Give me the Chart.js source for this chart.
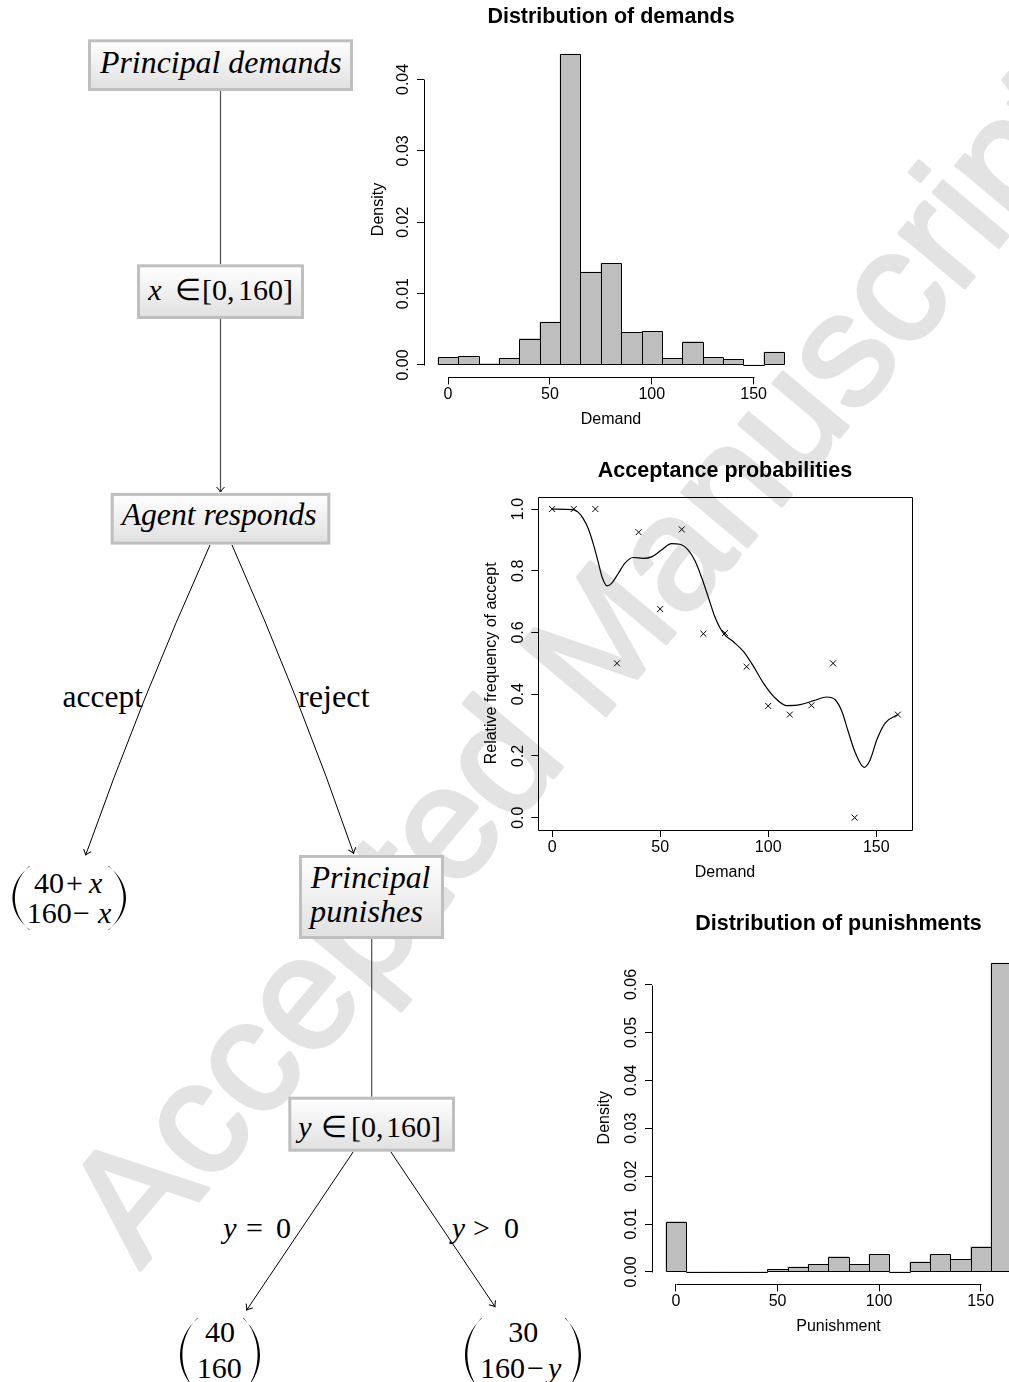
<!DOCTYPE html>
<html lang="en">
<head>
<meta charset="utf-8">
<title>Principal-agent game: demands, acceptance and punishments</title>
<script src="https://cdn.jsdelivr.net/npm/chart.js@4.4.1/dist/chart.umd.min.js"></script>
<style>
  html, body { margin: 0; padding: 0; background: #fff; overflow: hidden; }
  #figure { position: relative; width: 1009px; height: 1382px; overflow: hidden; }
  #figure svg { position: absolute; left: 0; top: 0; }
  #figure canvas { position: absolute; }
  .serif { font-family: "Liberation Serif", "Times New Roman", serif; font-size: 31.5px; fill: #000; }
  .math { font-family: "Liberation Serif", "Times New Roman", serif; font-size: 30px; fill: #000; }
  .it { font-style: italic; }
</style>
</head>
<body>
<div id="figure">
  <svg id="tree" width="1009" height="1382">
    <defs>
      <linearGradient id="boxFill" x1="0" y1="0" x2="0" y2="1">
        <stop offset="0" stop-color="#ffffff"/>
        <stop offset="1" stop-color="#e0e0e0"/>
      </linearGradient>
      <marker id="arrow" viewBox="-6 -5 7 10" markerWidth="7" markerHeight="10" refX="0" refY="0" orient="auto" markerUnits="userSpaceOnUse">
        <path d="M-5,-4 Q-1.5,-0.8 0,0 Q-1.5,0.8 -5,4" fill="none" stroke="#000" stroke-width="1"/>
      </marker>
    </defs>

    <!-- watermark -->
    <text x="140" y="1270" transform="rotate(-50 140 1270)" font-family="Liberation Sans, Arial, sans-serif" font-size="160" fill="#e3e3e3" stroke="#e3e3e3" stroke-width="4" stroke-linejoin="round">Accepted Manuscript</text>

    <!-- game tree: edges -->
    <g stroke="#4d4d4d" stroke-width="1.2" fill="none">
      <line x1="220.5" y1="91" x2="220.5" y2="264.3"/>
      <line x1="220.5" y1="319" x2="220.5" y2="492" marker-end="url(#arrow)"/>
      <line x1="371.7" y1="939" x2="371.7" y2="1096.7"/>
    </g>
    <g stroke="#000" stroke-width="1" fill="none">
      <path d="M210,545 Q140.6,700 85.7,855" marker-end="url(#arrow)"/>
      <path d="M232,545 Q300.2,699 353.6,853.3" marker-end="url(#arrow)"/>
      <line x1="353.3" y1="1151.7" x2="246.7" y2="1310" marker-end="url(#arrow)"/>
      <line x1="390.7" y1="1151.7" x2="495" y2="1306.7" marker-end="url(#arrow)"/>
    </g>

    <!-- game tree: nodes -->
    <g fill="url(#boxFill)" stroke="#bfbfbf" stroke-width="3">
      <rect x="89.5" y="40.8" width="262" height="48.7"/>
      <rect x="138.5" y="265.8" width="164" height="51.7"/>
      <rect x="112.2" y="494.4" width="216.6" height="48.7"/>
      <rect x="300.5" y="856.5" width="142" height="81"/>
      <rect x="289.8" y="1098.2" width="163.7" height="52"/>
    </g>

    <text class="serif it" x="100" y="73.2" textLength="241.7" lengthAdjust="spacingAndGlyphs">Principal demands</text>
    <text class="math" y="300"><tspan class="it" x="148.3">x</tspan><tspan x="175">∈</tspan><tspan x="202">[0,</tspan><tspan x="238">160]</tspan></text>
    <text class="serif it" x="121.7" y="525" textLength="195" lengthAdjust="spacingAndGlyphs">Agent responds</text>

    <text class="serif" x="62.5" y="706.7" textLength="80.4" lengthAdjust="spacingAndGlyphs">accept</text>
    <text class="serif" x="298" y="706.7" textLength="71.6" lengthAdjust="spacingAndGlyphs">reject</text>

    <text class="serif it" x="310.7" y="888.3" textLength="119.7" lengthAdjust="spacingAndGlyphs">Principal</text>
    <text class="serif it" x="310" y="921.7" textLength="113" lengthAdjust="spacingAndGlyphs">punishes</text>

    <text class="math" y="1136.7"><tspan class="it" x="298.3">y</tspan><tspan x="321">∈</tspan><tspan x="351">[0,</tspan><tspan x="386">160]</tspan></text>

    <text class="math" y="1238.3"><tspan class="it" x="223.3">y</tspan><tspan x="246">=</tspan><tspan x="276">0</tspan></text>
    <text class="math" y="1238.3"><tspan class="it" x="451.7">y</tspan><tspan x="473">&gt;</tspan><tspan x="504">0</tspan></text>

    <!-- payoffs (delimiters are added from the script) -->
    <text class="math" y="893.3"><tspan x="34">40</tspan><tspan x="66">+</tspan><tspan class="it" x="89">x</tspan></text>
    <text class="math" y="922.7"><tspan x="26.8">160</tspan><tspan x="73">−</tspan><tspan class="it" x="98">x</tspan></text>

    <text class="math" x="205" y="1341.7">40</text>
    <text class="math" x="196.7" y="1378.3">160</text>

    <text class="math" x="508.3" y="1341.7">30</text>
    <text class="math" y="1378.3"><tspan x="480">160</tspan><tspan x="527">−</tspan><tspan class="it" x="548">y</tspan></text>
  </svg>

  <canvas id="demandChart" width="440" height="440" style="left:364px;top:0px"></canvas>
  <canvas id="acceptChart" width="450" height="450" style="left:470px;top:440px"></canvas>
  <canvas id="punishChart" width="445" height="460" style="left:580px;top:880px"></canvas>
</div>

<script>
// ---- Distribution of demands (histogram, bins of width 10) ----
const demandBins = [0, 10, 20, 30, 40, 50, 60, 70, 80, 90, 100, 110, 120, 130, 140, 150, 160];
const demandDensity = [0.00105, 0.0012, 0.0002, 0.00093, 0.0037, 0.0060, 0.04355, 0.0130, 0.01425,
                       0.00458, 0.00472, 0.00093, 0.00327, 0.00107, 0.0008, 0, 0.00182];
const demandTicksX = [0, 50, 100, 150];
const demandTicksY = [0, 0.01, 0.02, 0.03, 0.04];
const demandLabelsY = ['0.00', '0.01', '0.02', '0.03', '0.04'];

// ---- Acceptance probabilities ----
const acceptDemand = [0, 10, 20, 30, 40, 50, 60, 70, 80, 90, 100, 110, 120, 130, 140, 160];
const acceptFreq = [1.0, 1.0, 1.0, 0.5, 0.925, 0.676, 0.934, 0.596, 0.598, 0.489, 0.362, 0.334, 0.364, 0.5, 0.0, 0.334];
// smoothed curve
const smoothDemand = [0, 9.7, 12, 14.4, 16.7, 19, 21.3, 23.1, 25.5, 27.5, 30.6, 33.6, 37.5, 42.1, 46,
                      50.6, 55.2, 59.1, 63, 66, 69.1, 72.2, 75.3, 79.2, 83.9, 88.6, 93.2, 97.8, 102.5,
                      108.6, 114.8, 121, 127.2, 131, 134.1, 137.2, 140.3, 144.4, 147.2, 150.3, 154.2, 160];
const smoothAccept = [1.0, 0.998, 0.990, 0.969, 0.937, 0.888, 0.829, 0.780, 0.751, 0.759, 0.791, 0.824, 0.843, 0.840, 0.845,
                      0.867, 0.888, 0.886, 0.867, 0.834, 0.780, 0.716, 0.651, 0.598, 0.570, 0.538, 0.490, 0.436, 0.393,
                      0.363, 0.366, 0.379, 0.391, 0.382, 0.344, 0.275, 0.210, 0.163, 0.188, 0.253, 0.307, 0.334];
const acceptTicksX = [0, 50, 100, 150];
const acceptTicksY = [0, 0.2, 0.4, 0.6, 0.8, 1.0];
const acceptLabelsY = ['0.0', '0.2', '0.4', '0.6', '0.8', '1.0'];

// ---- Distribution of punishments ----
const punishBins = [0, 10, 20, 30, 40, 50, 60, 70, 80, 90, 100, 110, 120, 130, 140, 150, 160];
const punishDensity = [0.0105, 0, 0, 0, 0, 0.00055, 0.00105, 0.0016, 0.0032, 0.0016, 0.0037,
                       0, 0.0021, 0.0037, 0.0026, 0.0053, 0.0645];
const punishTicksX = [0, 50, 100, 150];
const punishTicksY = [0, 0.01, 0.02, 0.03, 0.04, 0.05, 0.06];
const punishLabelsY = ['0.00', '0.01', '0.02', '0.03', '0.04', '0.05', '0.06'];

// big round brackets of the payoff vectors: [left, right, top, bottom, side]
const brackets = [
    [12.5, 30, 866, 930, 'left'], [108, 126, 866, 930, 'right'],
    [180, 198, 1318, 1392, 'left'], [243, 260, 1318, 1392, 'right'],
    [465, 482, 1318, 1392, 'left'], [565, 581, 1318, 1392, 'right']
];

function bracketPath(l, r, t, b, side) {
    const h = b - t, w = 2.4, tip = 0.8;
    if (side === 'left') {
        const co = (l - 0.25 * r) / 0.75;
        const ci = (l + w - 0.25 * (r - tip)) / 0.75;
        return `M${r},${t} C${co},${t + 0.28 * h} ${co},${b - 0.28 * h} ${r},${b} ` +
               `L${r - tip},${b} C${ci},${b - 0.28 * h} ${ci},${t + 0.28 * h} ${r - tip},${t} Z`;
    }
    const co = (r - 0.25 * l) / 0.75;
    const ci = (r - w - 0.25 * (l + tip)) / 0.75;
    return `M${l},${t} C${co},${t + 0.28 * h} ${co},${b - 0.28 * h} ${l},${b} ` +
           `L${l + tip},${b} C${ci},${b - 0.28 * h} ${ci},${t + 0.28 * h} ${l + tip},${t} Z`;
}

const tree = document.getElementById('tree');
brackets.forEach(([l, r, t, b, side]) => {
    const p = document.createElementNS('http://www.w3.org/2000/svg', 'path');
    p.setAttribute('d', bracketPath(l, r, t, b, side));
    p.setAttribute('fill', '#000');
    tree.appendChild(p);
});

Chart.defaults.font.family = '"Liberation Sans", Arial, Helvetica, sans-serif';
Chart.defaults.color = '#000';

// axis in the style of base R graphics: outward ticks, labels parallel to the axis
function rAxis({ min, max, ticks, labels, title, size, tickPad, titlePad, vertical }) {
    return {
        type: 'linear',
        min: min,
        max: max,
        offset: false,
        afterBuildTicks: scale => { scale.ticks = ticks.map(v => ({ value: v })); },
        afterFit: scale => { if (vertical) scale.width = size; else scale.height = size; },
        grid: { offset: false, drawOnChartArea: false, drawTicks: true, tickLength: 7, color: '#000', lineWidth: 1 },
        border: { display: false },
        ticks: {
            autoSkip: false,
            padding: tickPad,
            color: '#000',
            font: { size: 16 },
            minRotation: vertical ? 90 : 0,
            maxRotation: vertical ? 90 : 0,
            crossAlign: vertical ? 'center' : 'near',
            callback: (v, i) => labels ? labels[i] : String(v)
        },
        title: {
            display: true,
            text: title,
            color: '#000',
            font: { size: 16 },
            padding: vertical ? { top: titlePad, bottom: 0 } : { top: 0, bottom: titlePad }
        }
    };
}

function mainTitle(text, top, bottom) {
    return {
        display: true,
        text: text,
        fullSize: false,
        color: '#000',
        font: { size: 21.5, weight: 'bold' },
        padding: { top: top, bottom: bottom }
    };
}

// axis lines (tick range only), optional box, and bar outlines like hist()
const rStyle = {
    id: 'rStyle',
    afterDatasetsDraw(chart, args, opts) {
        const { ctx, chartArea: a, scales: { x, y } } = chart;
        const px = v => Math.round(v) + 0.5;
        ctx.save();
        ctx.strokeStyle = '#000';
        ctx.lineWidth = 1;

        if (opts.outline) {
            chart.getDatasetMeta(0).data.forEach(bar => {
                const l = Math.round(bar.x - bar.width / 2), r = Math.round(bar.x + bar.width / 2);
                const t = Math.round(Math.min(bar.y, bar.base)), b = Math.round(Math.max(bar.y, bar.base));
                ctx.beginPath();
                ctx.rect(l + 0.5, t + 0.5, r - l, b - t);
                ctx.stroke();
            });
        }

        ctx.beginPath();
        if (opts.box) {
            ctx.rect(px(a.left), px(a.top), Math.round(a.right) - Math.round(a.left), Math.round(a.bottom) - Math.round(a.top));
        } else {
            const xt = x.ticks, yt = y.ticks;
            ctx.moveTo(px(x.getPixelForValue(xt[0].value)), px(a.bottom));
            ctx.lineTo(px(x.getPixelForValue(xt[xt.length - 1].value)), px(a.bottom));
            ctx.moveTo(px(a.left), px(y.getPixelForValue(yt[0].value)));
            ctx.lineTo(px(a.left), px(y.getPixelForValue(yt[yt.length - 1].value)));
        }
        ctx.stroke();
        ctx.restore();
    }
};

const commonOptions = {
    responsive: false,
    animation: false,
    events: []
};

// Distribution of demands
new Chart(document.getElementById('demandChart'), {
    type: 'bar',
    data: {
        datasets: [{
            data: demandBins.map((b, i) => ({ x: b, y: demandDensity[i] })),
            backgroundColor: '#bebebe',
            borderWidth: 0,
            barPercentage: 1,
            categoryPercentage: 1
        }]
    },
    options: {
        ...commonOptions,
        layout: { padding: { left: 0, right: 6, top: 0, bottom: 0 } },
        plugins: {
            legend: { display: false },
            tooltip: { enabled: false },
            title: mainTitle('Distribution of demands', 4.5, 11.3),
            rStyle: { outline: true, box: false }
        },
        scales: {
            x: rAxis({ min: -11.8, max: 171.8, ticks: demandTicksX, title: 'Demand', size: 62.6, tickPad: 1.0, titlePad: 10.4 }),
            y: rAxis({ min: -0.00174, max: 0.0453, ticks: demandTicksY, labels: demandLabelsY, title: 'Density', size: 60, tickPad: -1.9, titlePad: 4.7, vertical: true })
        }
    },
    plugins: [rStyle]
});

// Acceptance probabilities
new Chart(document.getElementById('acceptChart'), {
    type: 'scatter',
    data: {
        datasets: [{
            type: 'line',
            data: smoothDemand.map((d, i) => ({ x: d, y: smoothAccept[i] })),
            borderColor: '#000',
            borderWidth: 1.2,
            pointRadius: 0,
            fill: false,
            cubicInterpolationMode: 'monotone'
        }, {
            type: 'scatter',
            data: acceptDemand.map((d, i) => ({ x: d, y: acceptFreq[i] })),
            pointStyle: 'crossRot',
            pointRadius: 4.2,
            borderColor: '#000',
            backgroundColor: '#000',
            borderWidth: 1
        }]
    },
    options: {
        ...commonOptions,
        layout: { padding: { left: 0, right: 8.3, top: 0, bottom: 0 } },
        plugins: {
            legend: { display: false },
            tooltip: { enabled: false },
            title: mainTitle('Acceptance probabilities', 17.8, 13.1),
            rStyle: { outline: false, box: true }
        },
        scales: {
            x: rAxis({ min: -6.4, max: 166.4, ticks: acceptTicksX, title: 'Demand', size: 60, tickPad: 1.4, titlePad: 7.4 }),
            y: rAxis({ min: -0.04, max: 1.04, ticks: acceptTicksY, labels: acceptLabelsY, title: 'Relative frequency of accept', size: 68.3, tickPad: 1.2, titlePad: 12.4, vertical: true })
        }
    },
    plugins: [rStyle]
});

// Distribution of punishments
new Chart(document.getElementById('punishChart'), {
    type: 'bar',
    data: {
        datasets: [{
            data: punishBins.map((b, i) => ({ x: b, y: punishDensity[i] })),
            backgroundColor: '#bebebe',
            borderWidth: 0,
            barPercentage: 1,
            categoryPercentage: 1
        }]
    },
    options: {
        ...commonOptions,
        layout: { padding: { left: 0, right: 0, top: 0, bottom: 0 } },
        plugins: {
            legend: { display: false },
            tooltip: { enabled: false },
            title: mainTitle('Distribution of punishments', 31.1, 14.1),
            rStyle: { outline: true, box: false }
        },
        scales: {
            x: rAxis({ min: -11.8, max: 171.8, ticks: punishTicksX, title: 'Punishment', size: 55.6, tickPad: 1.0, titlePad: 3.4 }),
            y: rAxis({ min: -0.0026, max: 0.067, ticks: punishTicksY, labels: punishLabelsY, title: 'Density', size: 72, tickPad: -2.3, titlePad: 15.4, vertical: true })
        }
    },
    plugins: [rStyle]
});
</script>
</body>
</html>
